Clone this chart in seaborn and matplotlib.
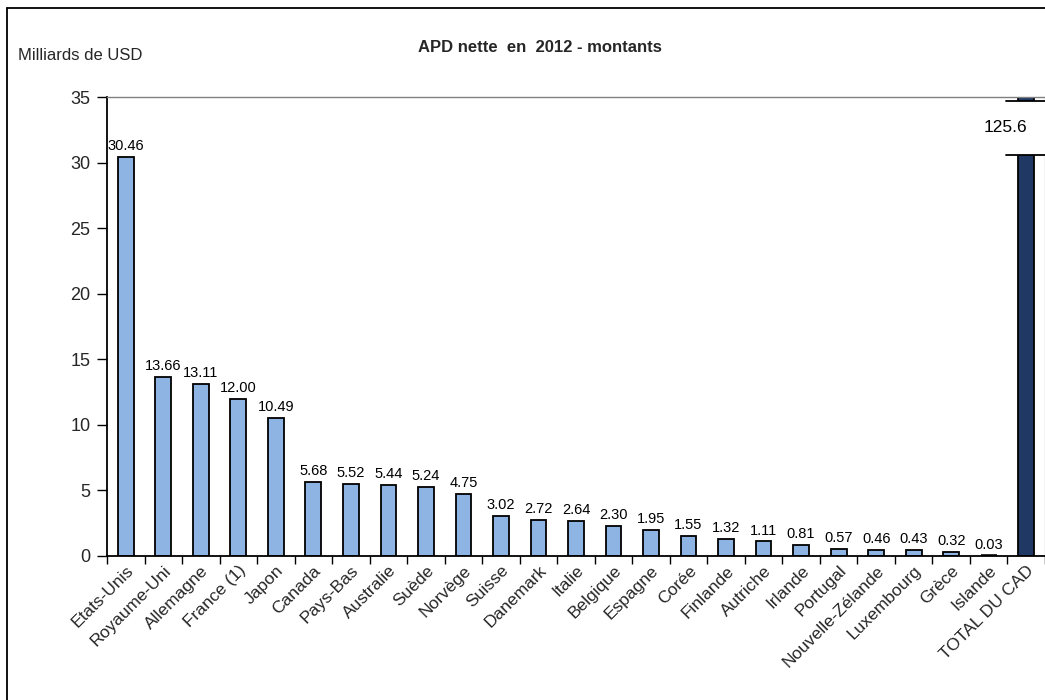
import matplotlib
matplotlib.use("Agg")
import matplotlib.pyplot as plt
import seaborn as sns
import pandas as pd
import numpy as np
from matplotlib.lines import Line2D
from matplotlib.patches import Rectangle

countries = ["Etats-Unis", "Royaume-Uni", "Allemagne", "France (1)", "Japon", "Canada",
             "Pays-Bas", "Australie", "Suède", "Norvège", "Suisse", "Danemark", "Italie",
             "Belgique", "Espagne", "Corée", "Finlande", "Autriche", "Irlande", "Portugal",
             "Nouvelle-Zélande", "Luxembourg", "Grèce", "Islande", "TOTAL DU CAD"]
values = [30.46, 13.66, 13.11, 12.00, 10.49, 5.68, 5.52, 5.44, 5.24, 4.75, 3.02, 2.72,
          2.64, 2.30, 1.95, 1.55, 1.32, 1.11, 0.81, 0.57, 0.46, 0.43, 0.32, 0.03, 125.6]
labels = ["30.46", "13.66", "13.11", "12.00", "10.49", "5.68", "5.52", "5.44", "5.24",
          "4.75", "3.02", "2.72", "2.64", "2.30", "1.95", "1.55", "1.32", "1.11", "0.81",
          "0.57", "0.46", "0.43", "0.32", "0.03", "125.6"]
yticks = [0, 5, 10, 15, 20, 25, 30, 35]

sns.set_theme(style="white")
plt.rcParams['font.family'] = ['Liberation Sans', 'DejaVu Sans']

W, H = 1045, 700
fig = plt.figure(figsize=(W / 100, H / 100), dpi=100)
ax = fig.add_axes([107 / W, (H - 556) / H, (W - 107) / W, (556 - 97) / H])

df = pd.DataFrame({"pays": countries, "val": values})
palette = ["#8DB4E2"] * (len(countries) - 1) + ["#1F3864"]
sns.barplot(data=df, x="pays", y="val", hue="pays", palette=palette, legend=False,
            saturation=1, edgecolor="black", linewidth=1.3, width=0.42, ax=ax)

# tiny Islande bar appears as a thick dark line in the reference
for p in ax.patches:
    if abs(p.get_height() - 0.03) < 1e-6:
        p.set_linewidth(2.6)

ax.set_ylim(0, 35)
ax.set_xlim(-0.5, 24.45)
ax.set_yticks(yticks)
ax.set_yticklabels([str(t) for t in yticks], fontsize=13)
ax.set_xlabel("")
ax.set_ylabel("")

ax.set_xticks(range(len(countries)))
ax.set_xticklabels(countries, rotation=45, ha="right", rotation_mode="anchor", fontsize=12.5)
ax.set_xticks(np.arange(-0.5, len(countries) - 0.4, 1), minor=True)
ax.tick_params(axis="x", which="major", length=0, pad=5)
ax.tick_params(axis="x", which="minor", length=6, width=1, color="black", direction="out", bottom=True)
ax.tick_params(axis="y", length=7, width=1, color="black", direction="out", left=True, pad=5)

for s in ["left", "bottom"]:
    ax.spines[s].set_color("black")
    ax.spines[s].set_linewidth(1.3)
ax.spines["top"].set_color("#808080")
ax.spines["top"].set_linewidth(1)
ax.spines["right"].set_color("#bfbfbf")
ax.spines["right"].set_linewidth(1)

for i, (v, lab) in enumerate(zip(values[:-1], labels[:-1])):
    ax.text(i, v + 0.3, lab, ha="center", va="bottom", fontsize=10.5, color="black")

# Axis break on total bar
n = len(countries) - 1
y_lo, y_hi = 30.58, 34.7
ax.add_patch(Rectangle((n - 1.25, y_lo), 2.0, y_hi - y_lo, facecolor="white",
                       edgecolor="none", zorder=5, clip_on=True))
for yy in (y_lo, y_hi):
    ax.plot([n - 0.55, n + 0.5], [yy, yy], color="black", lw=1.3, zorder=6, clip_on=True)
ax.text(n - 0.55, (y_lo + y_hi) / 2, labels[-1], ha="center", va="center",
        fontsize=12.5, color="black", zorder=7)

fig.text(18 / W, 1 - 55 / H, "Milliards de USD", fontsize=12, ha="left", va="center")
fig.text(540 / W, 1 - 47 / H, "APD nette  en  2012 - montants", fontsize=12,
         fontweight="bold", ha="center", va="center")

# outer frame (top and left edges)
fig.add_artist(Line2D([7 / W, 1], [1 - 8 / H, 1 - 8 / H], color="black", lw=1.3,
                      transform=fig.transFigure))
fig.add_artist(Line2D([7 / W, 7 / W], [0, 1 - 8 / H], color="black", lw=1.3,
                      transform=fig.transFigure))

fig.savefig("out.png", dpi=100)
